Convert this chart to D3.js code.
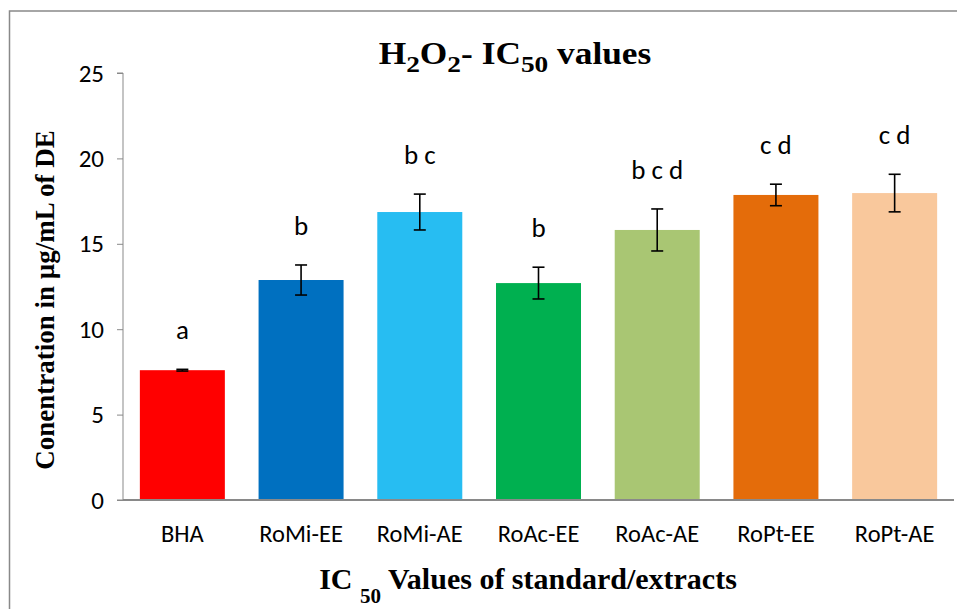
<!DOCTYPE html>
<html>
<head>
<meta charset="utf-8">
<script src="https://cdn.jsdelivr.net/npm/d3@7"></script>
<style>
  body { margin: 0; background: #fff; }
  svg { display: block; }
</style>
</head>
<body>
<div id="chart"></div>
<script>
// data
const categories = ["BHA", "RoMi-EE", "RoMi-AE", "RoAc-EE", "RoAc-AE", "RoPt-EE", "RoPt-AE"];
const values = [7.6, 12.88, 16.86, 12.7, 15.81, 17.86, 17.97];
const errors = [0.05, 0.88, 1.05, 0.93, 1.23, 0.63, 1.1];
const letters = ["a", "b", "b c", "b", "b c d", "c d", "c d"];
const colors = ["#ff0000", "#0070c0", "#27bdf2", "#00b050", "#a9c673", "#e46c0a", "#f9c89c"];
const yTicks = [0, 5, 10, 15, 20, 25];

const width = 957, height = 609;
const margin = { top: 73, right: 3, bottom: 109, left: 123 };

const svg = d3.select("#chart").append("svg")
  .attr("width", width)
  .attr("height", height);

// chart frame
svg.append("rect")
  .attr("x", 9.5).attr("y", 11)
  .attr("width", 960).attr("height", 620)
  .attr("fill", "none")
  .attr("stroke", "#898989")
  .attr("stroke-width", 1.5);

const x = d3.scaleBand()
  .domain(categories)
  .range([margin.left, width - margin.right])
  .paddingInner(0.284)
  .paddingOuter(0.142);

const y = d3.scaleLinear()
  .domain([0, 25])
  .range([height - margin.bottom, margin.top]);

const sans = "Carlito, Lato, 'Open Sans', sans-serif";
const serif = "'Liberation Serif', 'DejaVu Serif', serif";

// y axis
const yAxis = svg.append("g")
  .attr("transform", `translate(${margin.left},0)`)
  .call(d3.axisLeft(y).tickValues(yTicks).tickSize(6).tickPadding(13));
yAxis.selectAll("path, line").attr("stroke", "#898989").attr("stroke-width", 1);
yAxis.select(".domain").attr("d", `M-6,${y(25)}H0V${y(0)}H-6`);
yAxis.selectAll("text")
  .style("font-family", sans)
  .style("font-size", "25px")
  .attr("fill", "#000");

// bars
svg.selectAll("rect.bar")
  .data(categories)
  .enter().append("rect")
  .attr("class", "bar")
  .attr("x", (d) => x(d))
  .attr("y", (d, i) => y(values[i]))
  .attr("width", x.bandwidth())
  .attr("height", (d, i) => y(0) - y(values[i]))
  .attr("fill", (d, i) => colors[i]);

// x axis baseline
svg.append("line")
  .attr("x1", margin.left).attr("x2", width - margin.right)
  .attr("y1", y(0)).attr("y2", y(0))
  .attr("stroke", "#898989")
  .attr("stroke-width", 2);

// error bars
const eb = svg.selectAll("g.err")
  .data(categories)
  .enter().append("g")
  .attr("class", "err")
  .attr("transform", (d) => `translate(${x(d) + x.bandwidth() / 2},0)`)
  .attr("stroke", "#000")
  .attr("stroke-width", 1.6);
eb.append("line")
  .attr("y1", (d, i) => y(values[i] + errors[i]))
  .attr("y2", (d, i) => y(values[i] - errors[i]));
eb.append("line")
  .attr("x1", -6).attr("x2", 6)
  .attr("y1", (d, i) => y(values[i] + errors[i]))
  .attr("y2", (d, i) => y(values[i] + errors[i]));
eb.append("line")
  .attr("x1", -6).attr("x2", 6)
  .attr("y1", (d, i) => y(values[i] - errors[i]))
  .attr("y2", (d, i) => y(values[i] - errors[i]));

// significance letters
svg.selectAll("text.letter")
  .data(categories)
  .enter().append("text")
  .attr("class", "letter")
  .attr("x", (d) => x(d) + x.bandwidth() / 2)
  .attr("y", (d, i) => y(values[i] + errors[i]) - 30)
  .attr("text-anchor", "middle")
  .style("font-family", sans)
  .style("font-size", "27px")
  .text((d, i) => letters[i]);

// category labels
svg.selectAll("text.cat")
  .data(categories)
  .enter().append("text")
  .attr("class", "cat")
  .attr("x", (d) => x(d) + x.bandwidth() / 2)
  .attr("y", 542)
  .attr("text-anchor", "middle")
  .style("font-family", sans)
  .style("font-size", "24.5px")
  .text((d) => d);

// title (slightly stretched, like the reference)
const title = svg.append("text")
  .attr("transform", "translate(515,64) scale(1.14,1)")
  .attr("text-anchor", "middle")
  .style("font-family", serif)
  .style("font-weight", "bold")
  .style("font-size", "31px");
title.append("tspan").text("H");
title.append("tspan").attr("dy", 8).style("font-size", "24px").text("2");
title.append("tspan").attr("dy", -8).text("O");
title.append("tspan").attr("dy", 8).style("font-size", "24px").text("2");
title.append("tspan").attr("dy", -8).text("- IC");
title.append("tspan").attr("dy", 8).style("font-size", "24px").text("50");
title.append("tspan").attr("dy", -8).text(" values");

// y axis title
svg.append("text")
  .attr("transform", "translate(54,300) rotate(-90)")
  .attr("text-anchor", "middle")
  .style("font-family", serif)
  .style("font-weight", "bold")
  .style("font-size", "27px")
  .text("Conentration in µg/mL of DE");

// x axis title
const xt = svg.append("text")
  .attr("x", 528).attr("y", 589)
  .attr("text-anchor", "middle")
  .style("font-family", serif)
  .style("font-weight", "bold")
  .style("font-size", "30px");
xt.append("tspan").text("IC ");
xt.append("tspan").attr("dy", 14).style("font-size", "21px").text("50");
xt.append("tspan").attr("dy", -14).text(" Values of standard/extracts");
</script>
</body>
</html>
